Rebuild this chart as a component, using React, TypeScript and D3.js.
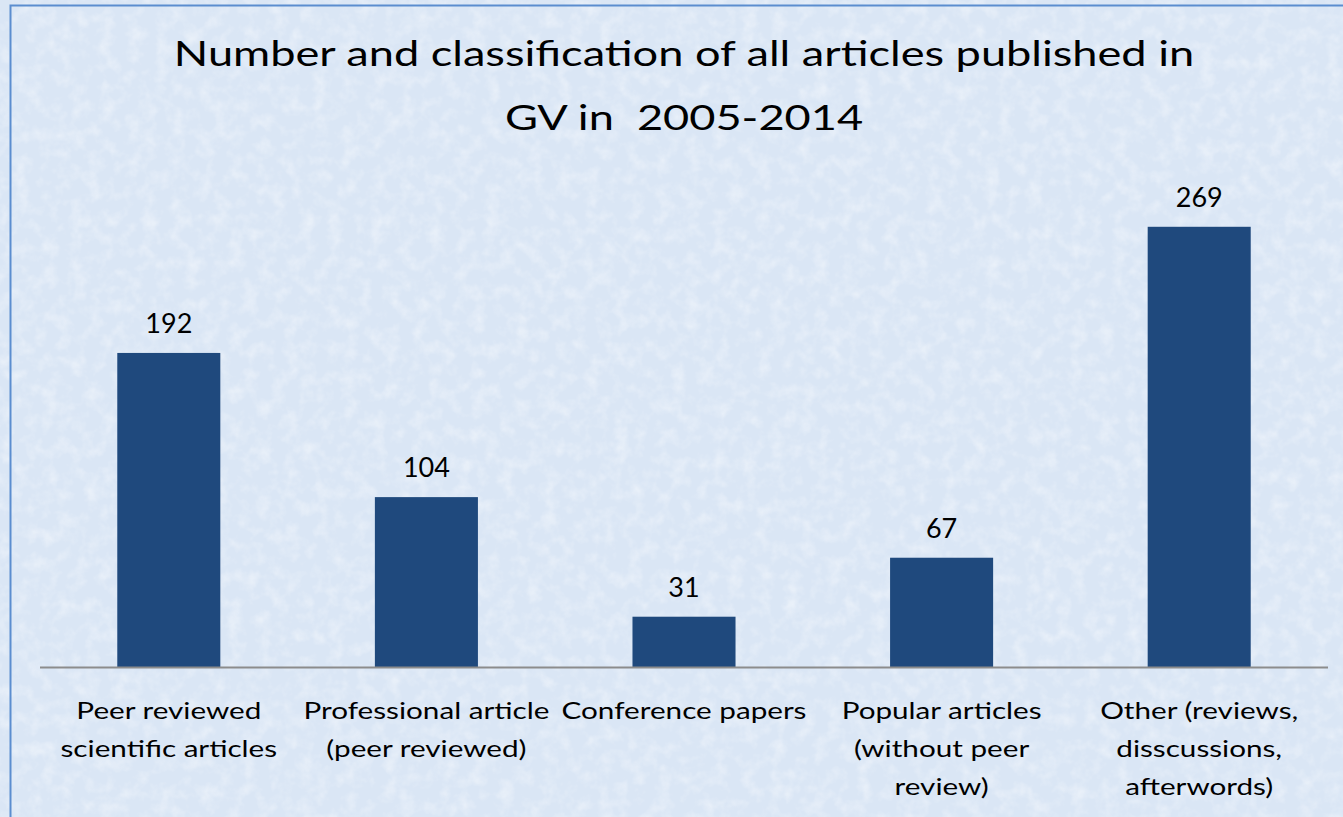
import { useRef, useEffect } from "react";
import * as d3 from "d3";

const categories = [
  ["Peer reviewed", "scientific articles"],
  ["Professional article", "(peer reviewed)"],
  ["Conference papers"],
  ["Popular articles", "(without peer", "review)"],
  ["Other (reviews,", "disscussions,", "afterwords)"],
];
const counts = [192, 104, 31, 67, 269];
const titleLines = ["Number and classification of all articles published in", "GV in  2005-2014"];

const W = 1343;
const H = 817;
const FONT = "Lato, 'Open Sans', sans-serif";

export default function App() {
  const svgRef = useRef<SVGSVGElement>(null);

  useEffect(() => {
    if (!svgRef.current) return;
    const svg = d3.select(svgRef.current);
    svg.selectAll("*").remove();

    const defs = svg.append("defs");
    const f = defs.append("filter").attr("id", "tex").attr("x", 0).attr("y", 0).attr("width", 1).attr("height", 1);
    f.append("feTurbulence").attr("type", "fractalNoise").attr("baseFrequency", 0.07).attr("numOctaves", 3).attr("seed", 4);
    f.append("feColorMatrix").attr("type", "matrix")
      .attr("values", "0 0 0 0 1  0 0 0 0 1  0 0 0 0 1  0 0 0 1.4 -0.6");

    // background box
    svg.append("rect").attr("x", 0).attr("y", 0).attr("width", W).attr("height", H).attr("fill", "#dae6f5");
    svg.append("rect").attr("x", 0).attr("y", 0).attr("width", W).attr("height", H).attr("filter", "url(#tex)").attr("opacity", 0.6);
    svg.append("rect").attr("x", 10.5).attr("y", 5.5).attr("width", W + 20).attr("height", H + 20)
      .attr("fill", "none").attr("stroke", "#5b8dcf").attr("stroke-width", 2);

    const x = d3.scaleBand<number>()
      .domain(d3.range(categories.length))
      .range([40, 1328])
      .paddingInner(0.6)
      .paddingOuter(0.3);
    const y = d3.scaleLinear().domain([0, 300]).range([667.5, 176]);

    const placed = (sel: d3.Selection<SVGTextElement, any, any, any>, cx: number, cy: number, sx: number) =>
      sel.attr("transform", `translate(${cx},${cy}) scale(${sx},1)`);

    // title
    titleLines.forEach((t, i) => {
      svg.append("text")
        .call(placed, 684, 66 + i * 64, 1.29)
        .attr("text-anchor", "middle")
        .attr("font-family", FONT)
        .attr("font-size", 35)
        .attr("fill", "#000")
        .style("white-space", "pre")
        .text(t);
    });

    // bars
    svg.append("g").selectAll("rect").data(counts).enter().append("rect")
      .attr("x", (_, i) => x(i)!)
      .attr("width", x.bandwidth())
      .attr("y", (d) => y(d))
      .attr("height", (d) => y(0) - y(d))
      .attr("fill", "#1f497d");

    // baseline
    svg.append("line")
      .attr("x1", 40).attr("x2", 1328)
      .attr("y1", y(0)).attr("y2", y(0))
      .attr("stroke", "#8c8c8c").attr("stroke-width", 2);

    // value labels
    counts.forEach((d, i) => {
      svg.append("text")
        .call(placed, x(i)! + x.bandwidth() / 2, y(d) - 20, 1.0)
        .attr("text-anchor", "middle")
        .attr("font-family", FONT)
        .attr("font-size", 27)
        .attr("fill", "#000")
        .text(String(d));
    });

    // category labels
    categories.forEach((lines, i) => {
      lines.forEach((t, j) => {
        svg.append("text")
          .call(placed, x(i)! + x.bandwidth() / 2, 719 + j * 38, 1.29)
          .attr("text-anchor", "middle")
          .attr("font-family", FONT)
          .attr("font-size", 23)
          .attr("fill", "#000")
          .text(t);
      });
    });
  }, []);

  return (
    <div style={{ position: "fixed", left: 0, top: 0 }}>
      <svg ref={svgRef} width={W} height={H} style={{ display: "block" }} />
    </div>
  );
}
